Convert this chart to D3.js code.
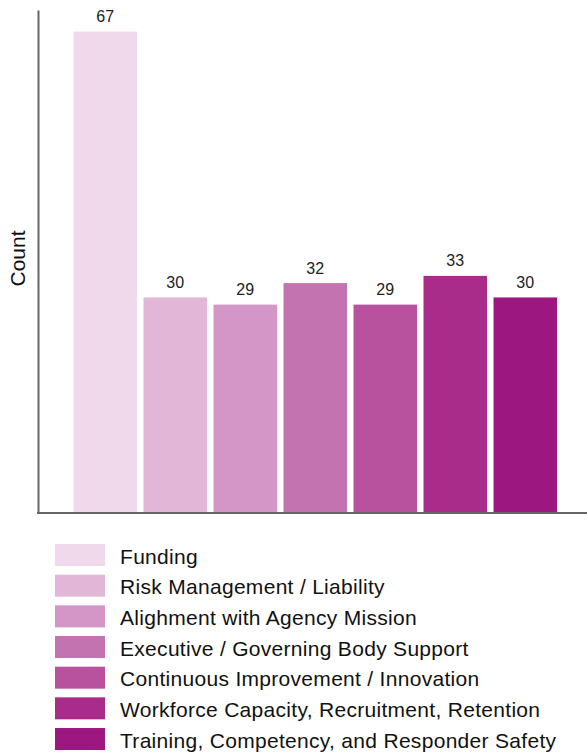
<!DOCTYPE html>
<html>
<head>
<meta charset="utf-8">
<script src="https://cdn.jsdelivr.net/npm/d3@7"></script>
<style>
  html, body { margin: 0; padding: 0; background: #fff; }
  svg { display: block; font-family: "Liberation Sans", Arial, Helvetica, sans-serif; }
</style>
</head>
<body>
<svg id="chart" width="587" height="754"></svg>
<script>
// Categories, counts and fill colours for each bar
const categories = [
  "Funding",
  "Risk Management / Liability",
  "Alighment with Agency Mission",
  "Executive / Governing Body Support",
  "Continuous Improvement / Innovation",
  "Workforce Capacity, Recruitment, Retention",
  "Training, Competency, and Responder Safety"
];
const counts = [67, 30, 29, 32, 29, 33, 30];
const colors = ["#f0d9ea", "#e2b6d7", "#d496c7", "#c473b1", "#b8529f", "#a92c8a", "#9c1880"];
const yAxisTitle = "Count";

const svg = d3.select("#chart");

const plot = { left: 38, right: 587, top: 10, bottom: 513 };

const x = d3.scaleBand()
  .domain(categories)
  .range([70.25, 560.25])
  .paddingInner(0.093)
  .paddingOuter(0.0465);

const y = d3.scaleLinear()
  .domain([0, 70])
  .range([plot.bottom, plot.top]);

// bars
svg.append("g")
  .selectAll("rect")
  .data(categories)
  .join("rect")
  .attr("x", d => x(d))
  .attr("width", x.bandwidth())
  .attr("y", (d, i) => y(counts[i]))
  .attr("height", (d, i) => y(0) - y(counts[i]))
  .attr("fill", (d, i) => colors[i]);

// value labels
svg.append("g")
  .selectAll("text")
  .data(categories)
  .join("text")
  .attr("x", d => x(d) + x.bandwidth() / 2)
  .attr("y", (d, i) => y(counts[i]) - 9.5)
  .attr("text-anchor", "middle")
  .attr("font-size", 16)
  .attr("fill", "#222")
  .text((d, i) => counts[i]);

// axes: plain left and bottom lines
const axisG = svg.append("g");
axisG.append("g")
  .attr("transform", `translate(${plot.left},0)`)
  .call(d3.axisLeft(y).tickValues([]).tickSizeOuter(0))
  .call(g => g.select(".domain").attr("stroke", "#666").attr("stroke-width", 2));
axisG.append("line")
  .attr("x1", plot.left - 1).attr("x2", plot.right)
  .attr("y1", plot.bottom).attr("y2", plot.bottom)
  .attr("stroke", "#666").attr("stroke-width", 2);

// y axis title
svg.append("text")
  .attr("transform", "translate(25,258.5) rotate(-90)")
  .attr("text-anchor", "middle")
  .attr("font-size", 21)
  .attr("fill", "#111")
  .text(yAxisTitle);

// legend
const legend = svg.append("g").attr("transform", "translate(55,544)");
const rowH = 30.67;
const rows = legend.selectAll("g")
  .data(categories)
  .join("g")
  .attr("transform", (d, i) => `translate(0,${i * rowH})`);
rows.append("rect")
  .attr("width", 50)
  .attr("height", 22)
  .attr("fill", (d, i) => colors[i]);
rows.append("text")
  .attr("x", 65)
  .attr("y", 19.5)
  .attr("font-size", 21)
  .attr("letter-spacing", 0.3)
  .attr("fill", "#111")
  .text(d => d);
</script>
</body>
</html>
